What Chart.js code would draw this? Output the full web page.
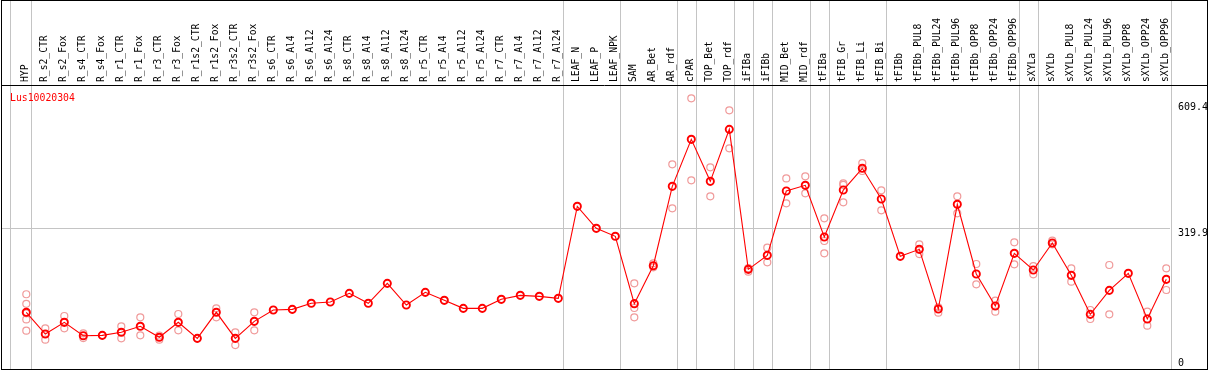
<!DOCTYPE html>
<html>
<head>
<meta charset="utf-8">
<script src="https://cdn.jsdelivr.net/npm/chart.js@4.4.1/dist/chart.umd.min.js"></script>
<style>
  html, body { margin: 0; padding: 0; background: #fff; }
  #wrap { width: 1209px; height: 370px; }
</style>
</head>
<body>
<div id="wrap"><canvas id="c" width="1209" height="370"></canvas></div>
<script>
const geneName = "Lus10020304";

const categories = [
  "HYP", "R_s2_CTR", "R_s2_Fox", "R_s4_CTR", "R_s4_Fox", "R_r1_CTR", "R_r1_Fox", "R_r3_CTR", "R_r3_Fox",
  "R_r1s2_CTR", "R_r1s2_Fox", "R_r3s2_CTR", "R_r3s2_Fox", "R_s6_CTR", "R_s6_Al4", "R_s6_Al12", "R_s6_Al24",
  "R_s8_CTR", "R_s8_Al4", "R_s8_Al12", "R_s8_Al24", "R_r5_CTR", "R_r5_Al4", "R_r5_Al12", "R_r5_Al24",
  "R_r7_CTR", "R_r7_Al4", "R_r7_Al12", "R_r7_Al24", "LEAF_N", "LEAF_P", "LEAF_NPK", "SAM", "AR_Bet", "AR_rdf",
  "cPAR", "TOP_Bet", "TOP_rdf", "iFIBa", "iFIBb", "MID_Bet", "MID_rdf", "tFIBa", "tFIB_Gr", "tFIB_Li", "tFIB_Bi",
  "tFIBb", "tFIBb_PUL8", "tFIBb_PUL24", "tFIBb_PUL96", "tFIBb_OPP8", "tFIBb_OPP24", "tFIBb_OPP96",
  "sXYLa", "sXYLb", "sXYLb_PUL8", "sXYLb_PUL24", "sXYLb_PUL96", "sXYLb_OPP8", "sXYLb_OPP24", "sXYLb_OPP96"
];

const means = [
  126.4, 76.4, 103.3, 72.5, 73.3, 80.3, 94.1, 68.8, 103.3, 66.4, 126.4, 66.4, 105.6, 131.7, 133.2, 147.1, 150.1,
  170.1, 147.1, 193.1, 143.2, 172.4, 154.0, 135.5, 135.5, 156.3, 165.5, 163.2, 158.6, 370.6, 319.9, 301.5,
  146.3, 233.8, 416.7, 525.0, 428.2, 548.0, 225.4, 257.7, 405.9, 419.0, 299.9, 408.2, 458.2, 387.5,
  255.4, 271.5, 134.0, 375.2, 214.7, 140.9, 262.3, 223.9, 286.1, 211.6, 121.7, 177.0, 216.2, 111.0, 202.4
];

// individual replicates per category
const replicates = [
  [168, 146, 124, 110, 84], [89.5, 63.3], [117.9, 89.5], [78, 67], [73.3], [94.1, 66.4], [114.8, 73.3],
  [73, 63.3], [122.5, 84.8], [66.4], [135.5, 114.8], [80.3, 51], [126.4, 84.8], [131.7], [133.2],
  [], [], [], [], [], [], [], [], [], [], [], [], [], [], [], [], [],
  [193.1, 136.3, 114.8], [239.3, 230], [467.4, 366], [619.5, 430.5], [460.5, 393.7], [591.8, 504.3],
  [220, 228], [275.3, 241.6], [435, 377.5], [439.8, 400.6], [343, 290.7, 262.3], [423.6, 420, 379.8],
  [470.4, 452], [407.5, 361.4], [], [283, 260.7], [125.5, 138], [393.7, 354.5], [237.7, 190.9],
  [153.1, 127.8], [287.7, 237], [233, 213.9], [291.4, 283], [227.7, 196.9], [131.7, 111],
  [235.4, 121.7], [], [127.8, 95.5], [227.7, 177.8]
];

const yTicks = [0, 319.9, 609.4];
// gray separators drawn after these category indices
const groupEnds = [0, 28, 31, 34, 35, 37, 38, 39, 41, 42, 45, 52, 53, 60];

const mono = "'DejaVu Sans Mono', monospace";
const red = "#ff0000";
const pink = "#f09a9a";
const sep = "#c4c4c4";

const repPoints = [];
replicates.forEach((r, i) => r.forEach(v => repPoints.push({ x: i, y: v })));

const frame = {
  id: "frame",
  beforeDatasetsDraw(chart) {
    const { ctx, chartArea, scales: { x } } = chart;
    ctx.save();
    ctx.strokeStyle = sep;
    ctx.lineWidth = 1;
    const xs = [chartArea.left + 8].concat(groupEnds.map(i => x.getPixelForValue(i + 0.24)));
    xs.forEach(px => {
      const p = Math.round(px) + 0.5;
      ctx.beginPath();
      ctx.moveTo(p, 0);
      ctx.lineTo(p, chartArea.bottom);
      ctx.stroke();
    });
    ctx.restore();
  },
  afterDraw(chart) {
    const { ctx, chartArea, scales: { y } } = chart;
    ctx.save();
    ctx.strokeStyle = "#000";
    ctx.lineWidth = 1;
    ctx.strokeRect(1.5, 0.5, 1206, chartArea.bottom);
    ctx.beginPath();
    ctx.moveTo(1.5, chartArea.top + 0.5);
    ctx.lineTo(1207.5, chartArea.top + 0.5);
    ctx.stroke();

    ctx.font = "10px " + mono;
    ctx.fillStyle = "#000";
    ctx.textAlign = "left";
    ctx.textBaseline = "top";
    yTicks.forEach(v => {
      const py = Math.min(y.getPixelForValue(v), chartArea.bottom - 11);
      ctx.fillText(String(v), chartArea.right + 8, py);
    });

    ctx.fillStyle = red;
    ctx.textBaseline = "alphabetic";
    ctx.font = "9.8px " + mono;
    ctx.fillText(geneName, chartArea.left + 8, chartArea.top + 16);
    ctx.restore();
  }
};

new Chart(document.getElementById("c"), {
  type: "line",
  data: {
    datasets: [
      {
        label: "mean",
        data: means.map((v, i) => ({ x: i, y: v })),
        borderColor: red,
        borderWidth: 1.1,
        pointRadius: 3.6,
        pointBorderWidth: 1.9,
        pointBorderColor: red,
        pointBackgroundColor: "transparent",
        tension: 0,
        order: 0
      },
      {
        type: "scatter",
        label: "replicates",
        data: repPoints,
        showLine: false,
        pointRadius: 3.5,
        pointBorderWidth: 1.2,
        pointBorderColor: pink,
        pointBackgroundColor: "transparent",
        order: 1
      }
    ]
  },
  options: {
    responsive: false,
    animation: false,
    layout: { autoPadding: false, padding: { left: 2, right: 0, top: 0, bottom: 1 } },
    plugins: { legend: { display: false }, tooltip: { enabled: false } },
    scales: {
      x: {
        type: "linear",
        position: "top",
        min: -1.279,
        max: 60.195,
        afterBuildTicks: s => { s.ticks = categories.map((_, i) => ({ value: i })); },
        afterFit: s => { s.height = 85; s.paddingLeft = 0; s.paddingRight = 0; },
        ticks: {
          autoSkip: false,
          minRotation: 90,
          maxRotation: 90,
          padding: 3,
          labelOffset: 10.5,
          color: "#000",
          font: { family: mono, size: 9.7 },
          callback: v => categories[v]
        },
        grid: { display: false, drawTicks: false },
        border: { display: false }
      },
      y: {
        type: "linear",
        position: "right",
        min: -4.24,
        max: 650.2,
        afterBuildTicks: s => { s.ticks = yTicks.map(v => ({ value: v })); },
        afterFit: s => { s.width = 39; s.paddingTop = 0; s.paddingBottom = 0; },
        ticks: { display: false },
        grid: {
          drawTicks: false,
          color: c => (c.tick && c.tick.value === 319.9 ? sep : "transparent")
        },
        border: { display: false }
      }
    }
  },
  plugins: [frame]
});
</script>
</body>
</html>
